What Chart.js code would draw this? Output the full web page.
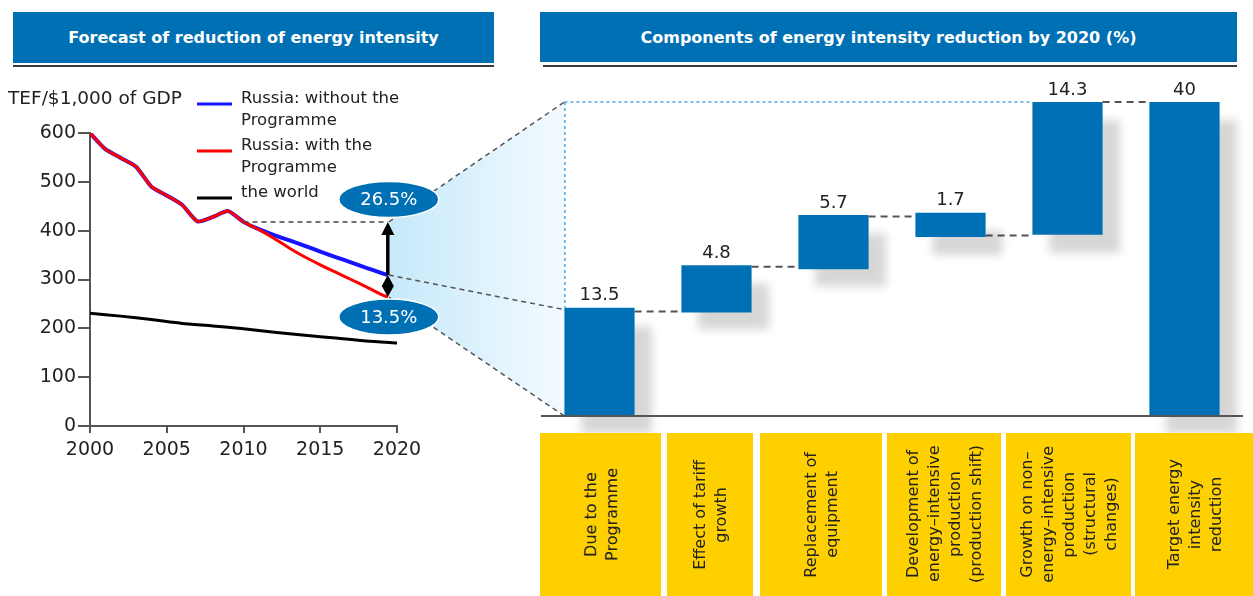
<!DOCTYPE html>
<html><head><meta charset="utf-8">
<script src="https://cdn.jsdelivr.net/npm/chart.js@4.4.1/dist/chart.umd.min.js"></script>
<style>
html,body{margin:0;padding:0;background:#fff;width:1253px;height:596px;overflow:hidden;position:relative;}
.hdr{position:absolute;background:#0070B4;color:#fff;font:bold 16px "DejaVu Sans", sans-serif;display:flex;align-items:center;justify-content:center;white-space:nowrap;}
.hline{position:absolute;height:2px;background:#3a3a3a;}
canvas{position:absolute;}
#bg{left:0;top:0;z-index:0}
#left{left:0;top:0;z-index:1}
#right{left:540px;top:60px;z-index:1}
.box{position:absolute;top:433px;height:163px;background:#FFD000;display:flex;align-items:center;justify-content:center;z-index:2}
.box span{writing-mode:vertical-rl;transform:rotate(180deg);text-align:center;font:16px "DejaVu Sans", sans-serif;line-height:21px;color:#222;white-space:pre;}
</style></head>
<body>
<div class="hdr" id="hL" style="left:13px;top:12px;width:481px;height:51px"></div>
<div class="hline" style="left:13px;top:65px;width:481px"></div>
<div class="hdr" id="hR" style="left:540px;top:12px;width:697px;height:50px"></div>
<div class="hline" style="left:543px;top:65px;width:694px"></div>
<canvas id="bg" width="1253" height="596"></canvas>
<canvas id="left" width="540" height="480"></canvas>
<canvas id="right" width="713" height="380"></canvas>
<div id="boxes"></div>
<script>
// ---------- DATA ----------
const leftTitle = 'Forecast of reduction of energy intensity';
const rightTitle = 'Components of energy intensity reduction by 2020 (%)';
const yAxisTitle = 'TEF/$1,000 of GDP';
const seriesNames = ['Russia: without the Programme', 'Russia: with the Programme', 'the world'];
const russiaYears = [2000,2001,2002,2003,2004,2005,2006,2007,2008,2009,2010,2011,2012,2013,2014,2015,2016,2017,2018,2019,2019.4];
const russiaWithout = [600,567,549,531,490,472,453,419,428,440,418,403,391,380,369,357,346,335,324,313,309];
const russiaWith    = [600,567,549,531,490,472,453,419,428,440,418,402,384,364,346,330,315,300,285,269,264];
const worldYears = [2000,2002,2004,2006,2008,2010,2012,2014,2016,2018,2020];
const world      = [231,225,218,210,205,199,192,186,180,174,170];
const refYear = 2010;
const refValue = 418;
const reductionLabels = ['26.5%', '13.5%'];
const yTicksLeft = {min:0, max:600, step:100};
const xTicksLeft = {min:2000, max:2020, step:5};

const components = [
  ['Due to the','Programme'],
  ['Effect of tariff','growth'],
  ['Replacement of','equipment'],
  ['Development of','energy\u2013intensive','production','(production shift)'],
  ['Growth on non\u2013','energy\u2013intensive','production','(structural','changes)'],
  ['Target energy','intensity','reduction']
];
const componentValues = [13.5, 4.8, 5.7, 1.7, 14.3, 40];
const barStarts = [0, 13.2, 18.7, 22.8, 23.1, 0];
const barEnds   = [13.8, 19.2, 25.6, 25.9, 40, 40];
const connectorLevels = [13.3, 19.0, 25.4, 23.0, 40];

// ---------- LAYOUT ----------
const boxEdges = [[540,661],[667,753],[760,882],[887,1001],[1006,1131],[1135,1253]];
const BLUE = '#0070B4';

document.getElementById('hL').textContent = leftTitle;
document.getElementById('hR').textContent = rightTitle;
const boxesDiv = document.getElementById('boxes');
components.forEach((lines, i) => {
  const d = document.createElement('div');
  d.className = 'box';
  d.style.left = boxEdges[i][0] + 'px';
  d.style.width = (boxEdges[i][1] - boxEdges[i][0]) + 'px';
  const s = document.createElement('span');
  s.textContent = lines.join('\n');
  d.appendChild(s);
  boxesDiv.appendChild(d);
});

const toXY = (xs, ys) => xs.map((x, i) => ({x, y: ys[i]}));

function wrapText(ctx, text, maxW) {
  const words = text.split(' '); const out = []; let cur = '';
  words.forEach(w => {
    const t = cur ? cur + ' ' + w : w;
    if (ctx.measureText(t).width > maxW && cur) { out.push(cur); cur = w; } else cur = t;
  });
  if (cur) out.push(cur);
  return out;
}

const leftDecor = {
  id: 'leftDecor',
  afterDatasetsDraw(chart) {
    const ctx = chart.ctx, xs = chart.scales.x, ys = chart.scales.y;
    const xEnd = xs.getPixelForValue(russiaYears[russiaYears.length - 1]);
    const yRef = ys.getPixelForValue(refValue);
    const yBlue = ys.getPixelForValue(russiaWithout[russiaWithout.length - 1]);
    const yRed = ys.getPixelForValue(russiaWith[russiaWith.length - 1]);
    ctx.save();
    ctx.strokeStyle = '#444'; ctx.lineWidth = 1.5; ctx.setLineDash([5, 4]);
    ctx.beginPath(); ctx.moveTo(xs.getPixelForValue(refYear), yRef); ctx.lineTo(xEnd, yRef); ctx.stroke();
    ctx.setLineDash([]);
    ctx.strokeStyle = '#000'; ctx.fillStyle = '#000'; ctx.lineWidth = 3.5;
    ctx.beginPath(); ctx.moveTo(xEnd, yBlue); ctx.lineTo(xEnd, yRef + 8); ctx.stroke();
    ctx.beginPath(); ctx.moveTo(xEnd, yRef); ctx.lineTo(xEnd - 6.5, yRef + 13); ctx.lineTo(xEnd + 6.5, yRef + 13); ctx.closePath(); ctx.fill();
    const mid = (yBlue + yRed) / 2;
    ctx.beginPath(); ctx.moveTo(xEnd, yBlue); ctx.lineTo(xEnd + 6, mid); ctx.lineTo(xEnd, yRed); ctx.lineTo(xEnd - 6, mid); ctx.closePath(); ctx.fill();
    const ells = [[yRef - 22.5, reductionLabels[0]], [yRed + 20, reductionLabels[1]]];
    ells.forEach(([cy, t]) => {
      ctx.beginPath(); ctx.ellipse(xEnd + 1, cy, 50, 18, 0, 0, Math.PI * 2);
      ctx.fillStyle = BLUE; ctx.fill();
      ctx.strokeStyle = '#fff'; ctx.lineWidth = 1.5; ctx.stroke();
      ctx.fillStyle = '#fff'; ctx.font = '18px "DejaVu Sans"'; ctx.textAlign = 'center'; ctx.textBaseline = 'middle';
      ctx.fillText(t, xEnd + 1, cy + 1);
    });
    ctx.fillStyle = '#222'; ctx.font = '18.5px "DejaVu Sans"'; ctx.textAlign = 'left'; ctx.textBaseline = 'middle';
    ctx.fillText(yAxisTitle, 8, 99);
    ctx.font = '16.5px "DejaVu Sans"';
    let y = 99;
    seriesNames.forEach((name, i) => {
      const ds = chart.data.datasets[i];
      const lines = wrapText(ctx, name, 176);
      ctx.strokeStyle = ds.borderColor; ctx.lineWidth = 3;
      ctx.beginPath(); ctx.moveTo(197, y + 5); ctx.lineTo(232, y + 5); ctx.stroke();
      ctx.fillStyle = '#222';
      lines.forEach((l, k) => ctx.fillText(l, 241, y + k * 22));
      y += lines.length * 22 + 3;
    });
    ctx.restore();
  }
};

const leftChart = new Chart(document.getElementById('left'), {
  type: 'line',
  data: { datasets: [
    { label: seriesNames[0], data: toXY(russiaYears, russiaWithout), borderColor: '#1414ff', borderWidth: 4, pointRadius: 0, tension: 0.2, order: 3 },
    { label: seriesNames[1], data: toXY(russiaYears, russiaWith), borderColor: '#ff0000', borderWidth: 3, pointRadius: 0, tension: 0.2, order: 1 },
    { label: seriesNames[2], data: toXY(worldYears, world), borderColor: '#000000', borderWidth: 3, pointRadius: 0, tension: 0.2, order: 2 }
  ]},
  options: {
    responsive: false, animation: false, events: [],
    layout: { padding: { left: 0, top: 133, right: 143, bottom: 14 } },
    plugins: { legend: { display: false }, tooltip: { enabled: false } },
    scales: {
      x: { type: 'linear', min: xTicksLeft.min, max: xTicksLeft.max,
        afterFit(s) { s.height = 40; },
        ticks: { stepSize: xTicksLeft.step, callback: v => String(v), font: { family: 'DejaVu Sans', size: 19 }, color: '#222', padding: 6, maxRotation: 0 },
        grid: { display: true, drawOnChartArea: false, drawTicks: true, tickLength: 7, color: '#555', lineWidth: 2 },
        border: { display: true, color: '#555', width: 2 } },
      y: { min: yTicksLeft.min, max: yTicksLeft.max,
        afterFit(s) { s.width = 90; },
        ticks: { stepSize: yTicksLeft.step, font: { family: 'DejaVu Sans', size: 19 }, color: '#222', padding: 2 },
        grid: { display: true, drawOnChartArea: false, drawTicks: true, tickLength: 12, color: '#555', lineWidth: 2 },
        border: { display: true, color: '#555', width: 2 } }
    }
  },
  plugins: [leftDecor]
});

const rightDecor = {
  id: 'rightDecor',
  beforeDatasetsDraw(chart) {
    const ctx = chart.ctx, ys = chart.scales.y, bars = chart.getDatasetMeta(0).data;
    ctx.save();
    ctx.strokeStyle = '#555'; ctx.lineWidth = 2; ctx.setLineDash([7, 5]);
    connectorLevels.forEach((lv, i) => {
      const a = bars[i], b = bars[i + 1], y = ys.getPixelForValue(lv);
      ctx.beginPath(); ctx.moveTo(a.x + a.width / 2, y); ctx.lineTo(b.x - b.width / 2, y); ctx.stroke();
    });
    ctx.restore();
  },
  beforeDatasetDraw(chart) {
    const ctx = chart.ctx; ctx.save();
    ctx.shadowColor = 'rgba(0,0,0,0.16)'; ctx.shadowBlur = 9; ctx.shadowOffsetX = 17; ctx.shadowOffsetY = 18;
  },
  afterDatasetDraw(chart) { chart.ctx.restore(); },
  afterDatasetsDraw(chart) {
    const ctx = chart.ctx, ys = chart.scales.y, ca = chart.chartArea, bars = chart.getDatasetMeta(0).data;
    ctx.save();
    ctx.strokeStyle = '#555'; ctx.lineWidth = 2;
    const y0 = ys.getPixelForValue(0);
    ctx.beginPath(); ctx.moveTo(ca.left, y0); ctx.lineTo(ca.right, y0); ctx.stroke();
    ctx.fillStyle = '#222'; ctx.font = '18px "DejaVu Sans"'; ctx.textAlign = 'center'; ctx.textBaseline = 'bottom';
    bars.forEach((b, i) => {
      const top = Math.min(b.y, b.base);
      ctx.fillText(String(componentValues[i]), b.x, top - 3);
    });
    ctx.restore();
  }
};

const rightChart = new Chart(document.getElementById('right'), {
  type: 'bar',
  data: { labels: components.map(l => l.join(' ')),
    datasets: [{ data: barStarts.map((s, i) => [s, barEnds[i]]), backgroundColor: BLUE, barPercentage: 0.6, categoryPercentage: 1, clip: false, borderSkipped: false, borderWidth: 0 }] },
  options: {
    responsive: false, animation: false, events: [],
    layout: { padding: { left: 1, right: 10, top: 42, bottom: 24 } },
    plugins: { legend: { display: false }, tooltip: { enabled: false } },
    scales: { x: { display: false }, y: { display: false, min: 0, max: 40 } }
  },
  plugins: [rightDecor]
});

function drawBackground() {
  const c = document.getElementById('bg'), ctx = c.getContext('2d');
  ctx.clearRect(0, 0, c.width, c.height);
  const xs = leftChart.scales.x, ys = leftChart.scales.y;
  const ax = xs.getPixelForValue(russiaYears[russiaYears.length - 1]) + 1;
  const yTop = ys.getPixelForValue(refValue);
  const yMid = ys.getPixelForValue(russiaWithout[russiaWithout.length - 1]);
  const yLow = ys.getPixelForValue(russiaWith[russiaWith.length - 1]);
  const ox = 540, oy = 60;
  const b0 = rightChart.getDatasetMeta(0).data[0];
  const b4 = rightChart.getDatasetMeta(0).data[4];
  const ry = rightChart.scales.y;
  const bx = ox + b0.x - b0.width / 2;
  const yTot = oy + ry.getPixelForValue(40), yZero = oy + ry.getPixelForValue(0);
  const yB1 = oy + Math.min(b0.y, b0.base);
  const g = ctx.createLinearGradient(ax, 0, bx, 0);
  g.addColorStop(0, 'rgb(198,233,250)'); g.addColorStop(1, 'rgb(243,250,255)');
  ctx.fillStyle = g;
  ctx.beginPath(); ctx.moveTo(ax, yTop); ctx.lineTo(bx, yTot); ctx.lineTo(bx, yZero); ctx.lineTo(ax, yLow); ctx.closePath(); ctx.fill();
  ctx.strokeStyle = '#555'; ctx.lineWidth = 1.5; ctx.setLineDash([5, 4]);
  [[yTop, yTot], [yMid, yB1 + 2], [yLow, yZero]].forEach(([a, b]) => {
    ctx.beginPath(); ctx.moveTo(ax, a); ctx.lineTo(bx, b); ctx.stroke();
  });
  ctx.strokeStyle = '#4aa8e0'; ctx.lineWidth = 1.5; ctx.setLineDash([3, 3]);
  ctx.beginPath(); ctx.moveTo(bx + 0.5, yTot); ctx.lineTo(bx + 0.5, yB1); ctx.stroke();
  ctx.beginPath(); ctx.moveTo(bx, yTot); ctx.lineTo(ox + b4.x - b4.width / 2, yTot); ctx.stroke();
}
drawBackground();
</script>
</body></html>
